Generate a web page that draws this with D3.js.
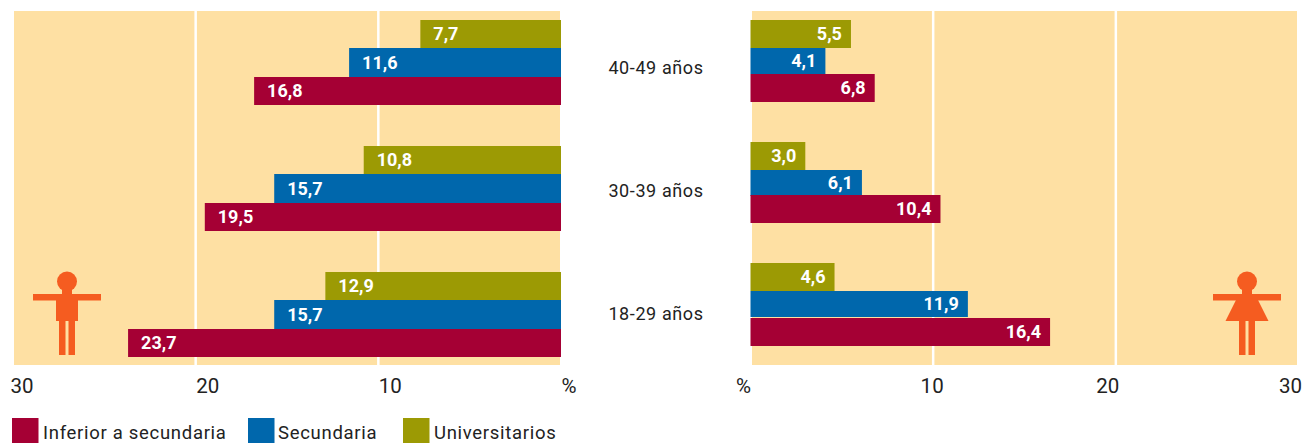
<!DOCTYPE html>
<html>
<head>
<meta charset="utf-8">
<script src="https://cdnjs.cloudflare.com/ajax/libs/d3/7.8.5/d3.min.js"></script>
<style>
html, body { margin: 0; padding: 0; background: #fff; overflow: hidden; }
text { font-family: Roboto, "Liberation Sans", sans-serif; fill: #222; }
.val { font-weight: 700; font-size: 18px; fill: #fff; }
.tick text { font-size: 20.5px; }
</style>
</head>
<body>
<script>
var ages = ['40-49 años', '30-39 años', '18-29 años'];
var levels = ['Universitarios', 'Secundaria', 'Inferior a secundaria'];
var legendOrder = ['Inferior a secundaria', 'Secundaria', 'Universitarios'];
var men = {
	'Universitarios': [7.7, 10.8, 12.9],
	'Secundaria': [11.6, 15.7, 15.7],
	'Inferior a secundaria': [16.8, 19.5, 23.7]
};
var women = {
	'Universitarios': [5.5, 3.0, 4.6],
	'Secundaria': [4.1, 6.1, 11.9],
	'Inferior a secundaria': [6.8, 10.4, 16.4]
};
var colors = d3.scaleOrdinal().domain(levels).range(['#9c9a04', '#0067ac', '#a50034']);
var tickVals = [0, 10, 20, 30];

var svg = d3.select('body').append('svg').attr('width', 1313).attr('height', 443);
var fmt = d => d.toFixed(1).replace('.', ',');

// filas de cada panel: y superior de cada barra
var rowsL = { 'Universitarios': [20, 146, 272], 'Secundaria': [48, 174, 300], 'Inferior a secundaria': [77, 203, 329] };
var rowsR = { 'Universitarios': [20, 142, 263], 'Secundaria': [48, 170, 291], 'Inferior a secundaria': [74, 195, 318] };
var heightsL = { 'Universitarios': 28, 'Secundaria': 29, 'Inferior a secundaria': 28 };
var heightsR = { 'Universitarios': 28, 'Secundaria': 26, 'Inferior a secundaria': 28 };

var xL = d3.scaleLinear().domain([0, 30]).range([561, 13]);
var xR = d3.scaleLinear().domain([0, 30]).range([750.5, 1298.5]);

function panel(x, data, rows, heights, bgX, bgW, side) {
	var g = svg.append('g');
	g.append('rect').attr('x', bgX).attr('y', 11).attr('width', bgW).attr('height', 354).attr('fill', '#fee0a3');
	g.selectAll('.grid').data([10, 20]).enter().append('line').attr('class', 'grid')
		.attr('x1', d => x(d)).attr('x2', d => x(d)).attr('y1', 11).attr('y2', 365)
		.attr('stroke', '#fff').attr('stroke-width', 2.5);
	levels.forEach(function(lv){
		var s = g.append('g');
		s.selectAll('rect').data(data[lv]).enter().append('rect')
			.attr('x', d => Math.min(x(0), x(d)))
			.attr('y', (d, i) => rows[lv][i])
			.attr('width', d => Math.abs(x(d) - x(0)))
			.attr('height', heights[lv])
			.attr('fill', colors(lv));
		s.selectAll('text').data(data[lv]).enter().append('text').attr('class', 'val')
			.attr('x', d => side == 'left' ? x(d) + 13 : x(d) - 9)
			.attr('y', (d, i) => rows[lv][i] + heights[lv] / 2 + 6)
			.attr('text-anchor', side == 'left' ? 'start' : 'end')
			.text(fmt);
	});
	var axis = d3.axisBottom(x).tickValues(tickVals).tickSize(0).tickFormat(d => d == 0 ? '%' : d);
	var a = g.append('g').attr('transform', 'translate(0,374)').call(axis);
	a.select('.domain').remove();
	a.selectAll('.tick text').attr('y', 0).attr('dy', '0.95em')
		.attr('text-anchor', side == 'left' ? 'start' : 'end')
		.attr('dx', d => side == 'left' ? (d == 30 ? -3 : 0) : (d == 10 ? 10 : (d == 0 ? 0 : 3)))
		.attr('fill', '#222');
}
panel(xL, men, rowsL, heightsL, 14, 546, 'left');
panel(xR, women, rowsR, heightsR, 752, 545, 'right');

// edades al centro
svg.selectAll('.age').data(ages).enter().append('text').attr('class', 'age')
	.attr('x', 656).attr('y', (d, i) => [73.5, 196.5, 319.5][i])
	.attr('text-anchor', 'middle').attr('font-size', 18).attr('letter-spacing', 0.6).text(d => d);

// figuras
var orange = '#f55c20';
function figure(cx, skirt) {
	var f = svg.append('g').attr('fill', orange).attr('transform', 'translate(' + cx + ',0)');
	f.append('circle').attr('cx', 0).attr('cy', 281.5).attr('r', 10);
	f.append('rect').attr('x', -5).attr('y', 288).attr('width', 10).attr('height', 8);
	f.append('rect').attr('x', -34).attr('y', 294).attr('width', 68).attr('height', 6.5);
	if (skirt) {
		f.append('path').attr('d', 'M-11,300L11,300L21.5,321L-21.5,321Z');
	} else {
		f.append('rect').attr('x', -11).attr('y', 300).attr('width', 22).attr('height', 21);
	}
	f.append('rect').attr('x', -8).attr('y', 321).attr('width', 6.5).attr('height', 34);
	f.append('rect').attr('x', 1.5).attr('y', 321).attr('width', 6.5).attr('height', 34);
}
figure(67, false);
figure(1247, true);

// leyenda
var legX = d3.scaleOrdinal().domain(legendOrder).range([12, 248, 403]);
var leg = svg.selectAll('.leg').data(legendOrder).enter().append('g').attr('class', 'leg')
	.attr('transform', d => 'translate(' + legX(d) + ',418)');
leg.append('rect').attr('width', 26.5).attr('height', 25).attr('fill', d => colors(d));
leg.append('text').attr('x', d => d == 'Secundaria' ? 30 : 31).attr('y', 21).attr('font-size', 18.5).attr('letter-spacing', 0.7).text(d => d);
</script>
</body>
</html>
